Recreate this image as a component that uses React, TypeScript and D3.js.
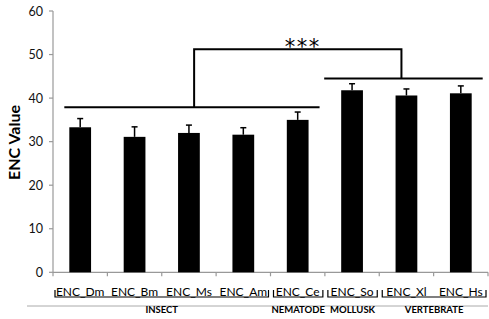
import React from "react";
import * as d3 from "d3";

const categories = ["ENC_Dm", "ENC_Bm", "ENC_Ms", "ENC_Am", "ENC_Ce", "ENC_So", "ENC_Xl", "ENC_Hs"];
const values = [33.3, 31.1, 32.0, 31.6, 35.0, 41.8, 40.6, 41.1];
const errors = [2.0, 2.3, 1.8, 1.6, 1.8, 1.5, 1.5, 1.7];
const yTicks = [0, 10, 20, 30, 40, 50, 60];
const groups = [
  { name: "INSECT", from: 0, to: 3 },
  { name: "NEMATODE", from: 4, to: 4 },
  { name: "MOLLUSK", from: 5, to: 5 },
  { name: "VERTEBRATE", from: 6, to: 7 },
];
// significance brackets (values in data units)
const leftBracketLevel = 37.9;
const rightBracketLevel = 44.5;
const topBracketLevel = 51.2;
const sigLabel = "***";

const W = 489;
const H = 319;
const FONT = "Lato, 'Open Sans', sans-serif";

export default function App() {
  const x = d3.scaleBand<string>().domain(categories).range([53, 488]).paddingInner(0.6).paddingOuter(0.3);
  const step = x.step();
  const bandStart = (i: number) => 53 + i * step;
  const y = d3.scaleLinear().domain([0, 60]).range([272.3, 11]);
  const bw = x.bandwidth();

  const lx1 = (x(categories[0]) as number) - 5;
  const lx2 = (x(categories[4]) as number) + bw + 11;
  const lmid = bandStart(3) - 22;
  const rx1 = (x(categories[5]) as number) - 17;
  const rx2 = (x(categories[7]) as number) + bw + 11;
  const rmid = bandStart(6) + step / 2 - 5;

  return (
    <svg width={W} height={H} style={{ position: "absolute", left: 0, top: 0, background: "#fff" }}>
      {/* y axis */}
      <line x1={53} x2={53} y1={y(60)} y2={y(0)} stroke="#999" strokeWidth={1.2} />
      {yTicks.map((t) => (
        <g key={t}>
          <line x1={49} x2={53} y1={y(t)} y2={y(t)} stroke="#999" strokeWidth={1.2} />
          <text x={43} y={y(t)} dy="0.36em" textAnchor="end" fontFamily={FONT} fontSize={12.5} fill="#111">
            {t}
          </text>
        </g>
      ))}
      {/* x axis */}
      <line x1={53} x2={488} y1={y(0)} y2={y(0)} stroke="#999" strokeWidth={1.2} />
      {d3.range(categories.length + 1).map((i) => (
        <line key={i} x1={bandStart(i)} x2={bandStart(i)} y1={y(0)} y2={y(0) + 4} stroke="#999" strokeWidth={1.2} />
      ))}
      {/* bars */}
      {categories.map((c, i) => {
        const cx = (x(c) as number) + bw / 2;
        return (
          <g key={c}>
            <line x1={cx} x2={cx} y1={y(values[i])} y2={y(values[i] + errors[i])} stroke="#000" strokeWidth={1.5} />
            <line x1={cx - 3} x2={cx + 3} y1={y(values[i] + errors[i])} y2={y(values[i] + errors[i])} stroke="#000" strokeWidth={1.5} />
            <rect x={x(c)} y={y(values[i])} width={bw} height={y(0) - y(values[i])} fill="#000" />
            <text x={cx} y={295.5} textAnchor="middle" fontFamily={FONT} fontSize={12} fill="#000">
              {c}
            </text>
          </g>
        );
      })}
      {/* significance brackets */}
      <g stroke="#000" strokeWidth={2} fill="none">
        <line x1={lx1} x2={lx2} y1={y(leftBracketLevel)} y2={y(leftBracketLevel)} />
        <line x1={rx1} x2={rx2} y1={y(rightBracketLevel)} y2={y(rightBracketLevel)} />
        <polyline points={`${lmid},${y(leftBracketLevel)} ${lmid},${y(topBracketLevel)} ${rmid},${y(topBracketLevel)} ${rmid},${y(rightBracketLevel)}`} />
      </g>
      <text x={(lmid + rmid) / 2 + 5} y={y(topBracketLevel) + 5} textAnchor="middle" fontFamily="'DejaVu Sans', sans-serif" fontSize={21} fill="#000" letterSpacing={1.5}>
        {sigLabel}
      </text>
      {/* y label */}
      <text transform={`translate(20,142.5) rotate(-90)`} textAnchor="middle" fontFamily={FONT} fontWeight="bold" fontSize={16} fill="#000">
        ENC Value
      </text>
      {/* group brackets */}
      <line x1={27} x2={488} y1={306} y2={306} stroke="#aaa" strokeWidth={1} />
      {groups.map((g, gi) => {
        const a = bandStart(g.from) + (gi === 0 ? 2 : 3);
        const b = bandStart(g.to + 1) - 2;
        return (
          <g key={g.name}>
            <polyline points={`${a},290 ${a},297 ${b},297 ${b},290`} stroke="#000" strokeWidth={1.2} fill="none" />
            <text x={(a + b) / 2} y={313} textAnchor="middle" fontFamily={FONT} fontWeight="bold" fontSize={9.5} fill="#000">
              {g.name}
            </text>
          </g>
        );
      })}
    </svg>
  );
}
